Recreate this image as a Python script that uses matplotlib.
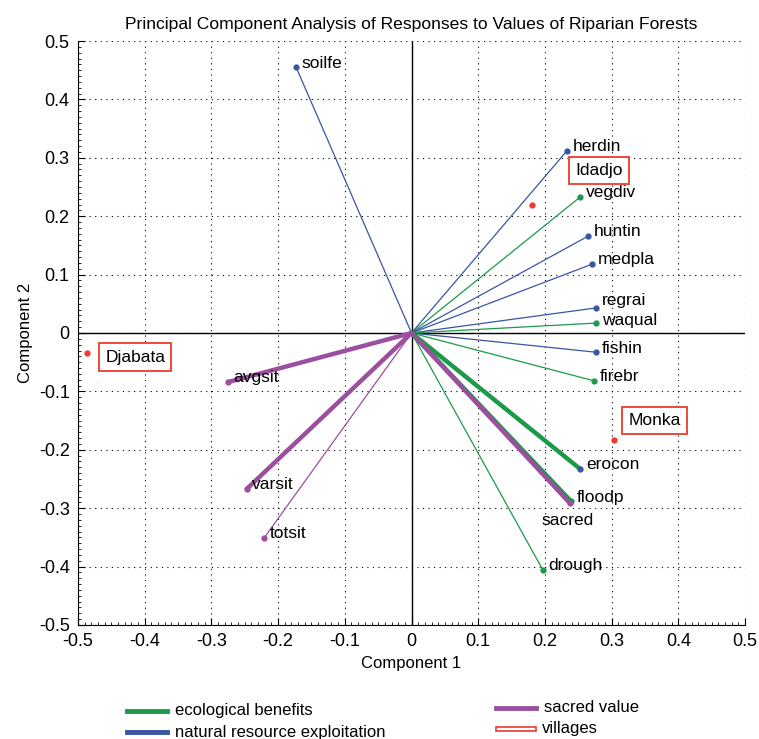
import matplotlib
matplotlib.use("Agg")
import matplotlib.pyplot as plt
from matplotlib.lines import Line2D
from matplotlib.patches import Rectangle
from matplotlib.ticker import MultipleLocator

plt.rcParams['font.family'] = ['Liberation Sans', 'DejaVu Sans']

# variables
names = ['soilfe', 'herdin', 'vegdiv', 'huntin', 'medpla', 'regrai', 'waqual',
         'fishin', 'firebr', 'erocon', 'floodp', 'sacred', 'drough',
         'avgsit', 'varsit', 'totsit']
pc1 = [-0.173, 0.233, 0.253, 0.265, 0.271, 0.277, 0.277,
       0.277, 0.274, 0.253, 0.239, 0.237, 0.197,
       -0.275, -0.247, -0.221]
pc2 = [0.455, 0.312, 0.233, 0.166, 0.118, 0.043, 0.017,
       -0.033, -0.082, -0.233, -0.288, -0.291, -0.406,
       -0.084, -0.267, -0.351]
groups = ['nat', 'nat', 'eco', 'nat', 'nat', 'nat', 'eco',
          'nat', 'eco', 'eco', 'eco', 'sac', 'eco',
          'sac', 'sac', 'sac']
thick = [0, 0, 0, 0, 0, 0, 0, 0, 0, 1, 1, 1, 0, 1, 1, 0]

villages = ['Djabata', 'Idadjo', 'Monka']
vil_pc1 = [-0.486, 0.181, 0.304]
vil_pc2 = [-0.034, 0.219, -0.183]

GREEN = '#1c9a4a'
BLUE = '#3a55a5'
PURPLE = '#9c4f9f'
RED = '#ee3a2c'
colors = {'eco': GREEN, 'nat': BLUE, 'sac': PURPLE}
dot_colors = {'erocon': BLUE}

fig = plt.figure(figsize=(7.59, 7.39), dpi=100)
ax = fig.add_axes([0.1028, 0.1543, 0.8788, 0.7902])
ax.set_xlim(-0.5, 0.5)
ax.set_ylim(-0.5, 0.5)

ax.grid(True, linestyle=(0, (1, 4)), color='black', linewidth=0.8)
ax.set_axisbelow(True)
ax.axhline(0, color='black', lw=1.0)
ax.axvline(0, color='black', lw=1.0)

label_offsets = {'sacred': (-20, -13, 'left'), 'regrai': (4, 5, 'left'),
                 'waqual': (4, 2, 'left')}

for n, x, y, g, t in zip(names, pc1, pc2, groups, thick):
    c = colors[g]
    ax.plot([0, x], [0, y], color=c, lw=3.2 if t else 0.9, solid_capstyle='round', zorder=3)
for n, x, y, g, t in zip(names, pc1, pc2, groups, thick):
    c = dot_colors.get(n, colors[g])
    ax.plot([x], [y], 'o', ms=3.5, color=c, zorder=4)
    dx, dy, ha = label_offsets.get(n, (4, 3, 'left'))
    ax.annotate(n, (x, y), xytext=(dx, dy), textcoords='offset points',
                ha=ha, va='center', fontsize=12.5, zorder=5)

vil_offsets = {'Djabata': (13, -3), 'Idadjo': (31, 25), 'Monka': (10, 14)}
for n, x, y in zip(villages, vil_pc1, vil_pc2):
    ax.plot([x], [y], 'o', ms=3.5, color=RED, zorder=4)
    dx, dy = vil_offsets[n]
    ax.annotate(n, (x, y), xytext=(dx, dy), textcoords='offset points',
                ha='left', va='center', fontsize=12.5, zorder=5,
                bbox=dict(boxstyle='square,pad=0.35', fc='white', ec=RED, lw=1.3))

ticks = [-0.5, -0.4, -0.3, -0.2, -0.1, 0, 0.1, 0.2, 0.3, 0.4, 0.5]
tick_labels = ['-0.5', '-0.4', '-0.3', '-0.2', '-0.1', '0', '0.1', '0.2', '0.3', '0.4', '0.5']
ax.set_xticks(ticks)
ax.set_yticks(ticks)
ax.set_xticklabels(tick_labels)
ax.set_yticklabels(tick_labels)
ax.xaxis.set_minor_locator(MultipleLocator(0.01))
ax.yaxis.set_minor_locator(MultipleLocator(0.01))
ax.tick_params(which='major', direction='in', length=5, labelsize=13, pad=6)
ax.tick_params(which='minor', direction='in', length=2)
ax.tick_params(top=False, right=False, which='both')
ax.spines['top'].set_visible(False)
ax.spines['right'].set_visible(False)
ax.set_xlabel('Component 1', fontsize=12, labelpad=4)
ax.set_ylabel('Component 2', fontsize=12, labelpad=4)
ax.set_title('Principal Component Analysis of Responses to Values of Riparian Forests',
             fontsize=12.6, pad=9)

# legend (drawn in figure coordinates)
W, H = 759.0, 739.0
def fx(p): return p / W
def fy(p): return 1 - p / H
leg = [(127, 711, GREEN, 'ecological benefits'),
       (127, 732, BLUE, 'natural resource exploitation'),
       (496, 708, PURPLE, 'sacred value')]
for x0, y0, c, txt in leg:
    fig.add_artist(Line2D([fx(x0), fx(x0 + 40)], [fy(y0), fy(y0)], color=c, lw=3.5))
    fig.text(fx(x0 + 48), fy(y0), txt, fontsize=12, va='center', ha='left')
fig.add_artist(Rectangle((fx(496), fy(731)), fx(40), 4 / H, fc='white', ec=RED, lw=1.2,
                         transform=fig.transFigure))
fig.text(fx(542), fy(728), 'villages', fontsize=12, va='center', ha='left')

fig.savefig('out.png', dpi=100)
